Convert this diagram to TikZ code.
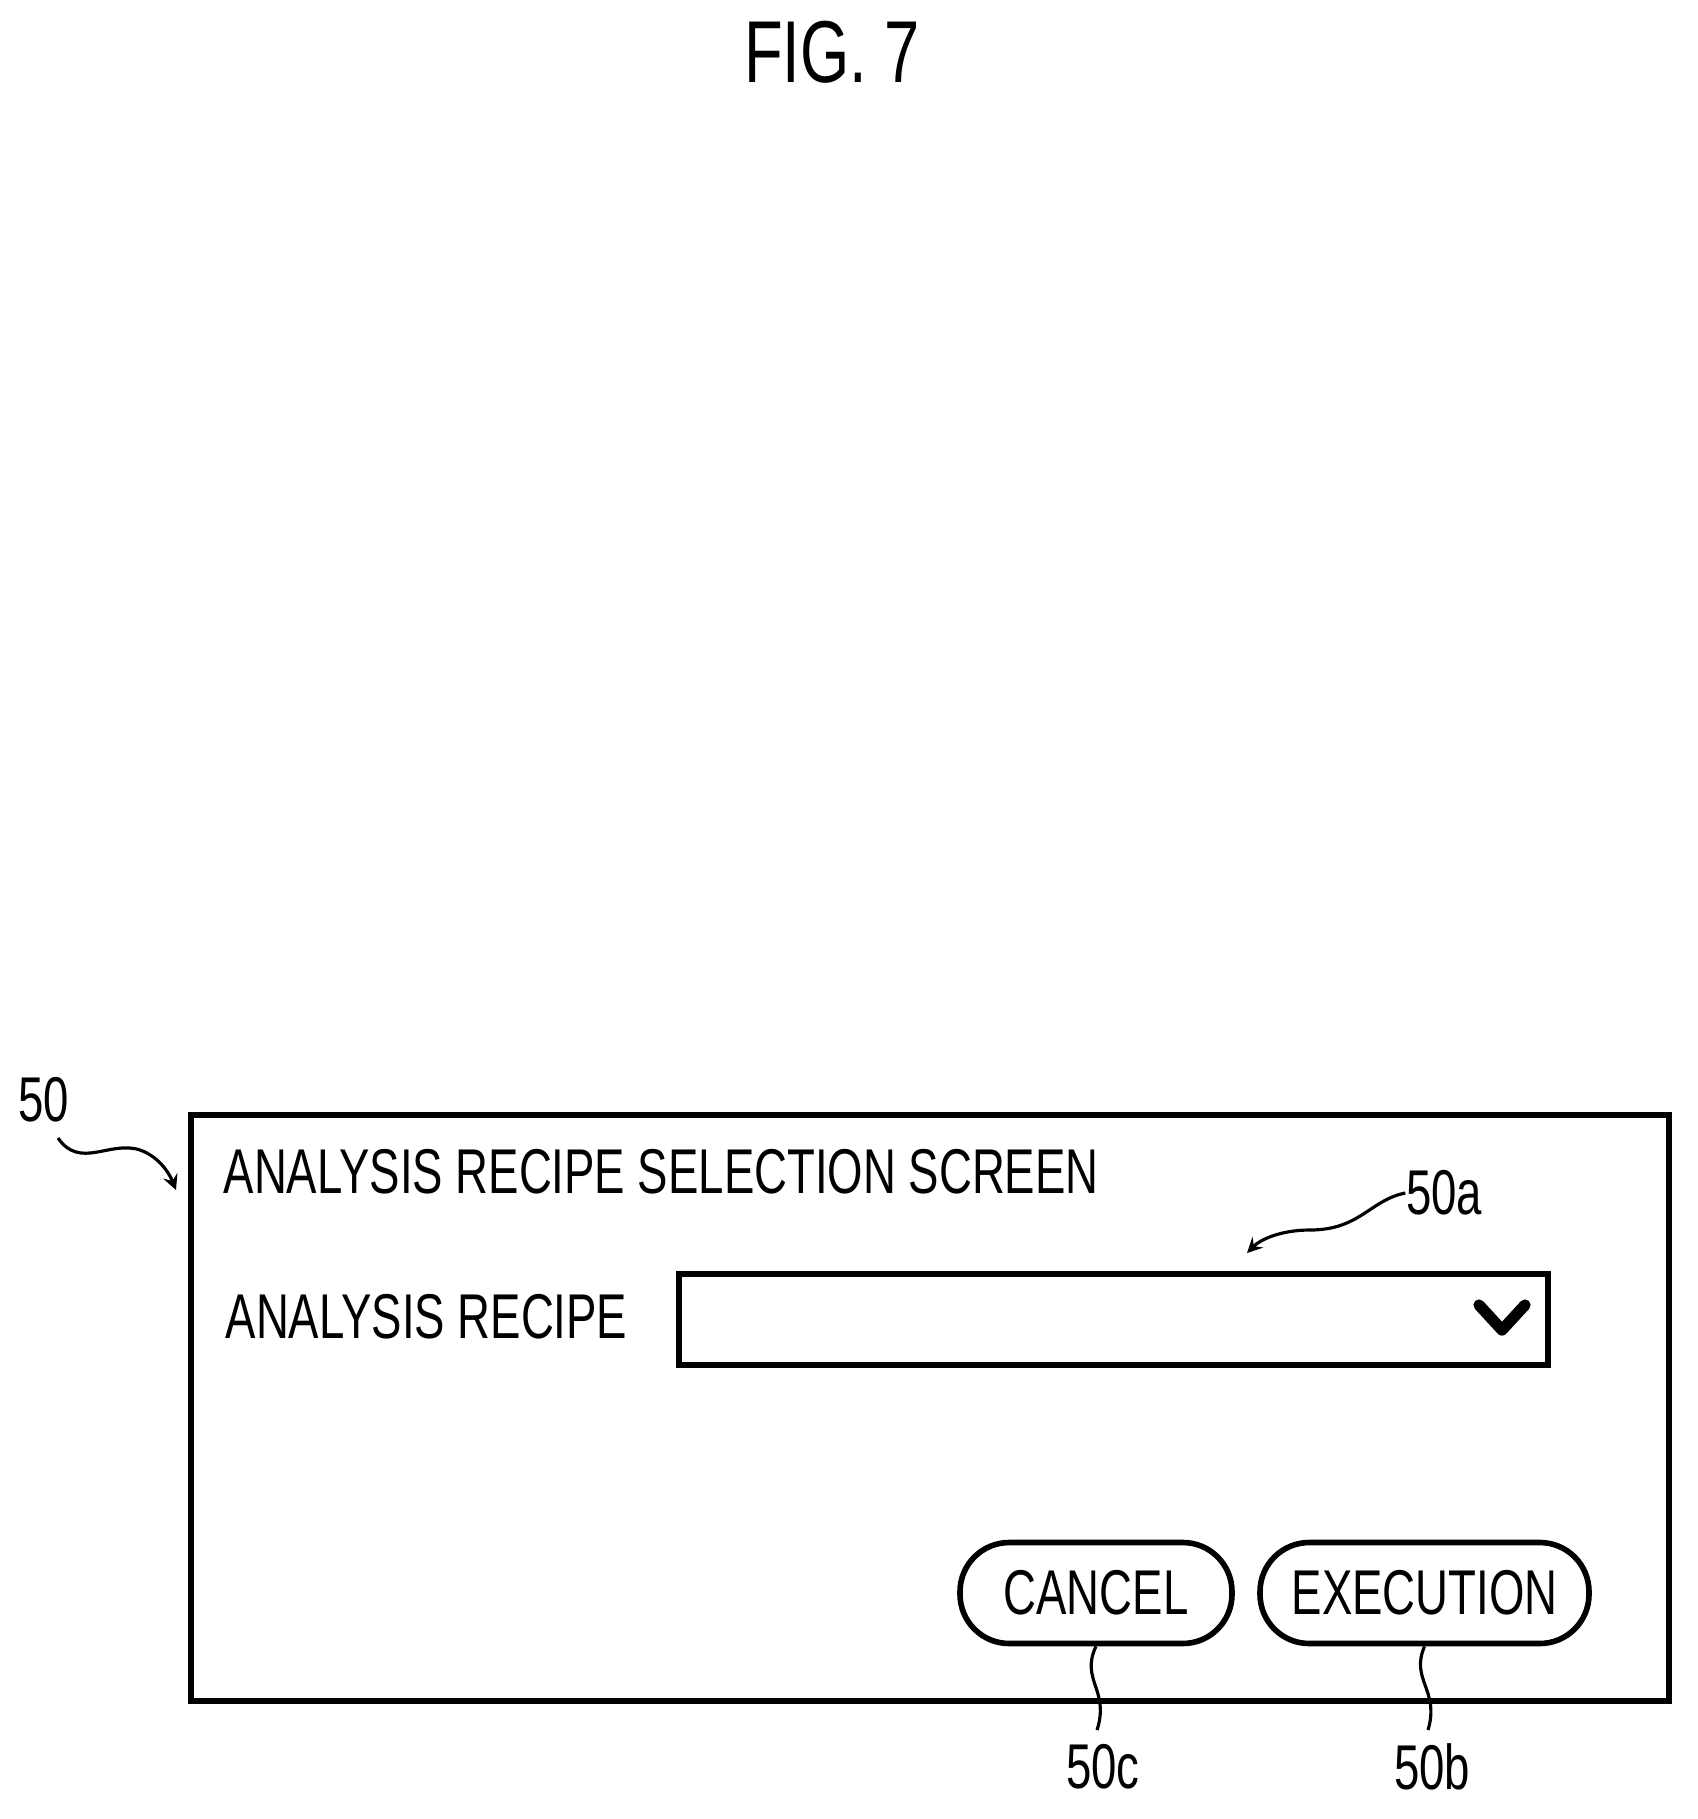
\documentclass[tikz,border=0pt]{standalone}
\usepackage{fontspec}
\setmainfont{Liberation Sans}[FakeStretch=0.72]
\usetikzlibrary{positioning}
\tikzset{
	lbl/.style={font=\fontsize{18}{20}\selectfont, inner sep=0pt},
	btn/.style={draw, line width=1.6pt, rounded corners=14pt, minimum height=1.01cm, font=\fontsize{18}{20}\selectfont},
	lead/.style={line width=0.9pt},
	tip/.style={lead, ->, >=stealth}
}
\begin{document}
\begin{tikzpicture}
	\useasboundingbox (0,0) rectangle (16.98,-18.19);
	%title
	\node[lbl, font=\fontsize{25}{28}\selectfont] (fig) at (8.32,-0.52) {FIG. 7};
	
	%screen frame
	\draw[line width=1.6pt] (1.91,-11.15) rectangle (16.69,-17.01);
	\node[lbl, anchor=west] (head) at (2.23,-11.72) {ANALYSIS RECIPE SELECTION SCREEN};
	\node[lbl, anchor=west] (recipe) at (2.25,-13.17) {ANALYSIS RECIPE};
	
	%drop down
	\node[draw, line width=1.6pt, minimum width=8.69cm, minimum height=0.91cm, inner sep=0pt] (combo) at (11.135,-13.195) {};
	\draw[line width=3.2pt, line cap=round, line join=round] (14.79,-13.05)--(15.02,-13.3)--(15.25,-13.05);
	
	%buttons
	\node[btn, minimum width=2.72cm] (cancel) at (10.96,-15.93) {CANCEL};
	\node[btn, minimum width=3.29cm] (exec) at (14.245,-15.93) {EXECUTION};
	
	%reference numerals
	\node[lbl] (r50) at (0.44,-11.0) {50};
	\node[lbl] (r50a) at (14.44,-11.93) {50a};
	\node[lbl] (r50c) at (11.03,-17.67) {50c};
	\node[lbl] (r50b) at (14.32,-17.67) {50b};
	\coordinate (t50) at (1.76,-11.9);
	\coordinate (t50a) at (12.47,-12.53);
	
	%leaders
	\draw[tip] (0.58,-11.38) .. controls (0.8,-11.7) and (1.1,-11.4) .. (1.4,-11.5) .. controls (1.6,-11.57) and (1.7,-11.75) .. (t50);
	\draw[tip] (r50a.west) .. controls (13.7,-12.0) and (13.6,-12.3) .. (13.1,-12.3) .. controls (12.8,-12.3) and (12.6,-12.4) .. (t50a);
	\draw[lead] (cancel.south) .. controls (10.8,-16.8) and (11.1,-16.9) .. (10.97,-17.3);
	\draw[lead] (exec.south) .. controls (14.1,-16.8) and (14.4,-16.9) .. (14.28,-17.3);
\end{tikzpicture}
\end{document}
